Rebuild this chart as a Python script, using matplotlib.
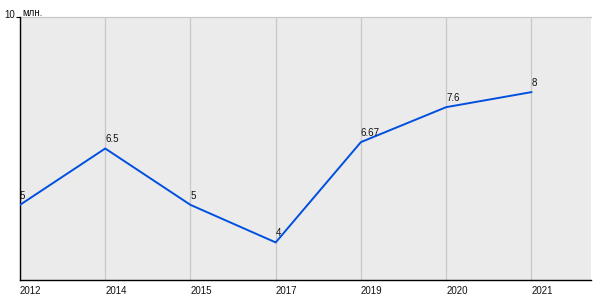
import matplotlib
matplotlib.use("Agg")
import matplotlib.pyplot as plt
from matplotlib.transforms import offset_copy

years = ["2012", "2014", "2015", "2017", "2019", "2020", "2021"]
values = [5, 6.5, 5, 4, 6.67, 7.6, 8]
labels = ["5", "6.5", "5", "4", "6.67", "7.6", "8"]

plt.rcParams['font.family'] = ['Liberation Sans', 'DejaVu Sans']

fig = plt.figure(figsize=(6, 3), dpi=100)
ax = fig.add_axes([20/600, 1 - 280/300, 571/600, 263/300])
ax.set_facecolor('#EBEBEB')

x = list(range(len(years)))
for xi in x:
    ax.axvline(xi, color='#C8C8C8', lw=0.9, zorder=1)
ax.axhline(10, color='#C8C8C8', lw=0.9, zorder=1, clip_on=False)

ax.plot(x, values, color='#0050E0', lw=1.4, zorder=3)
for xi, v, t in zip(x, values, labels):
    ax.annotate(t, (xi, v), xytext=(0, 3), textcoords='offset points',
                ha='left', va='bottom', fontsize=7, color='#111111', zorder=4)

ax.set_xlim(0, 6.7)
ax.set_ylim(3, 10)
ax.set_xticks(x)
ax.set_xticklabels(years, ha='left', fontsize=7, color='#111111')
ax.tick_params(axis='x', length=0, pad=4)
ax.set_yticks([10])
ax.set_yticklabels([""])
ax.tick_params(axis='y', length=3, pad=2, width=0.8)
ax.text(0, 10, "10", ha='right', va='bottom', fontsize=7, color='#111111',
        transform=offset_copy(ax.transData, fig=fig, x=-5, y=-3, units='dots'))
ax.text(0, 10, "млн.", ha='left', va='bottom', fontsize=7, color='#111111',
        transform=offset_copy(ax.transData, fig=fig, x=2, y=-1, units='dots'))

for s in ['top', 'right']:
    ax.spines[s].set_visible(False)
for s in ['left', 'bottom']:
    ax.spines[s].set_color('black')
    ax.spines[s].set_linewidth(1.0)

fig.savefig('out.png', dpi=100)
